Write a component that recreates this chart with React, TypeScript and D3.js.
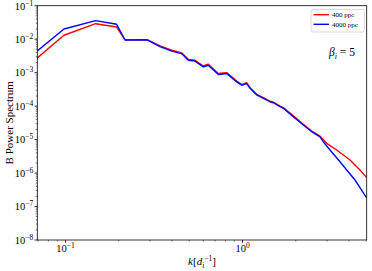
import React from "react";
import * as d3 from "d3";

const k400 = [0.0693, 0.098, 0.148, 0.1945, 0.217, 0.291, 0.342, 0.398, 0.453, 0.494, 0.539, 0.6005, 0.641, 0.73, 0.814, 0.927, 0.99, 1.056, 1.103, 1.203, 1.311, 1.43, 1.493, 1.629, 1.7, 1.936, 2.206, 2.46, 2.741, 2.99, 3.405, 4.05, 4.61, 5.03];
const p400 = [2.74e-3, 1.31e-2, 2.9e-2, 2.31e-2, 9.5e-3, 9.6e-3, 6.3e-3, 4.7e-3, 3.9e-3, 2.5e-3, 2.35e-3, 1.58e-3, 1.78e-3, 9.4e-4, 1.0e-3, 5.6e-4, 4.4e-4, 5.0e-4, 3.55e-4, 2.25e-4, 1.78e-4, 1.4e-4, 1.31e-4, 1.0e-4, 9.0e-5, 5.1e-5, 2.85e-5, 1.8e-5, 1.27e-5, 7.74e-6, 4.89e-6, 2.46e-6, 1.23e-6, 7.3e-7];

const k4000 = [0.0693, 0.098, 0.148, 0.1945, 0.217, 0.291, 0.342, 0.398, 0.453, 0.494, 0.539, 0.6005, 0.641, 0.73, 0.814, 0.927, 0.99, 1.056, 1.103, 1.203, 1.311, 1.43, 1.493, 1.629, 1.7, 1.936, 2.206, 2.46, 2.741, 2.86, 3.12, 3.555, 3.879, 4.32, 5.03];
const p4000 = [4.43e-3, 2.01e-2, 3.57e-2, 2.78e-2, 9.44e-3, 9.44e-3, 5.96e-3, 4.4e-3, 3.7e-3, 2.35e-3, 2.2e-3, 1.48e-3, 1.66e-3, 8.8e-4, 9.4e-4, 5.3e-4, 4.2e-4, 4.7e-4, 3.4e-4, 2.15e-4, 1.71e-4, 1.35e-4, 1.26e-4, 9.6e-5, 8.6e-5, 4.83e-5, 2.73e-5, 1.72e-5, 1.2e-5, 8.65e-6, 4.89e-6, 2.18e-6, 1.23e-6, 6.2e-7, 1.8e-7];

const yTickExps = [-1, -2, -3, -4, -5, -6, -7, -8];
const xTickExps = [-1, 0];
const seriesLabels = ["400 ppc", "4000 ppc"];
const seriesColors = ["#ff0000", "#0000ff"];

const W = 372, H = 271;
const L = 37.3, R = 366.7, T = 5.7, B = 240;
const FONT = "'Liberation Serif', 'Times New Roman', serif";

export default function App() {
  const x = d3.scaleLog().domain([0.0693, 5.03]).range([L, R]);
  const y = d3.scaleLog().domain([1e-8, 1e-1]).range([B, T]);
  const line = d3.line<[number, number]>().x(d => x(d[0])).y(d => y(d[1]));
  const s400 = k400.map((k, i) => [k, p400[i]] as [number, number]);
  const s4000 = k4000.map((k, i) => [k, p4000[i]] as [number, number]);

  const yMinor: number[] = [];
  for (let e = -8; e < -1; e++) for (let m = 2; m <= 9; m++) yMinor.push(m * Math.pow(10, e));
  const xMinor: number[] = [];
  for (let e = -2; e <= 0; e++) for (let m = 2; m <= 9; m++) {
    const v = m * Math.pow(10, e);
    if (v >= 0.0693 && v <= 5.03) xMinor.push(v);
  }

  return (
    <div style={{ position: "fixed", left: 0, top: 0 }}>
      <svg width={W} height={H} style={{ display: "block", background: "#fff" }} fontFamily={FONT}>
        <defs>
          <clipPath id="plotclip"><rect x={L} y={T} width={R - L} height={B - T} /></clipPath>
        </defs>
        <g clipPath="url(#plotclip)">
          <path d={line(s400) || ""} fill="none" stroke={seriesColors[0]} strokeWidth={1.4} strokeLinejoin="round" />
          <path d={line(s4000) || ""} fill="none" stroke={seriesColors[1]} strokeWidth={1.4} strokeLinejoin="round" />
        </g>
        <rect x={L} y={T} width={R - L} height={B - T} fill="none" stroke="#000" strokeWidth={0.8} />
        {yMinor.map((v, i) => (
          <line key={"ym" + i} x1={L} x2={L - 1.6} y1={y(v)} y2={y(v)} stroke="#000" strokeWidth={0.5} />
        ))}
        {yTickExps.map(e => (
          <g key={"y" + e}>
            <line x1={L} x2={L - 2.8} y1={y(Math.pow(10, e))} y2={y(Math.pow(10, e))} stroke="#000" strokeWidth={0.8} />
            <text x={L - 4} y={y(Math.pow(10, e)) + 3.8} textAnchor="end" fontSize={10.5} fill="#000">
              10<tspan fontSize={7.5} dy={-4}>{"\u2212" + Math.abs(e)}</tspan>
            </text>
          </g>
        ))}
        {xMinor.map((v, i) => (
          <line key={"xm" + i} x1={x(v)} x2={x(v)} y1={B} y2={B + 1.6} stroke="#000" strokeWidth={0.5} />
        ))}
        {xTickExps.map(e => (
          <g key={"x" + e}>
            <line x1={x(Math.pow(10, e))} x2={x(Math.pow(10, e))} y1={B} y2={B + 2.8} stroke="#000" strokeWidth={0.8} />
            <text x={x(Math.pow(10, e))} y={B + 12} textAnchor="middle" fontSize={10.5} fill="#000">
              10<tspan fontSize={7.5} dy={-4}>{e === 0 ? "0" : "\u2212" + Math.abs(e)}</tspan>
            </text>
          </g>
        ))}
        <text x={(L + R) / 2} y={265} textAnchor="middle" fontSize={11} fill="#000">
          <tspan fontStyle="italic">k</tspan>
          <tspan>[</tspan>
          <tspan fontStyle="italic">d</tspan>
          <tspan fontStyle="italic" fontSize={7.5} dy={2.5}>i</tspan>
          <tspan fontSize={7.5} dy={-7}>{"\u22121"}</tspan>
          <tspan dy={4.5}>]</tspan>
        </text>
        <text transform={`translate(12.5, ${(T + B) / 2}) rotate(-90)`} textAnchor="middle" fontSize={11} fill="#000">
          B Power Spectrum
        </text>
        <g>
          <rect x={311} y={9.5} width={53.5} height={22.5} rx={2} fill="#fff" fillOpacity={0.8} stroke="#d0d0d0" strokeWidth={0.8} />
          {seriesLabels.map((lab, i) => (
            <g key={lab}>
              <line x1={313.5} x2={329} y1={14.7 + i * 9.6} y2={14.7 + i * 9.6} stroke={seriesColors[i]} strokeWidth={1.4} />
              <text x={332} y={14.7 + i * 9.6 + 2.5} fontSize={7} fill="#000">{lab}</text>
            </g>
          ))}
        </g>
        <text x={329} y={56} fontSize={11.5} fill="#000">
          <tspan fontStyle="italic">β</tspan>
          <tspan fontStyle="italic" fontSize={8} dy={2.5}>i</tspan>
          <tspan dy={-2.5}>{" = 5"}</tspan>
        </text>
      </svg>
    </div>
  );
}
